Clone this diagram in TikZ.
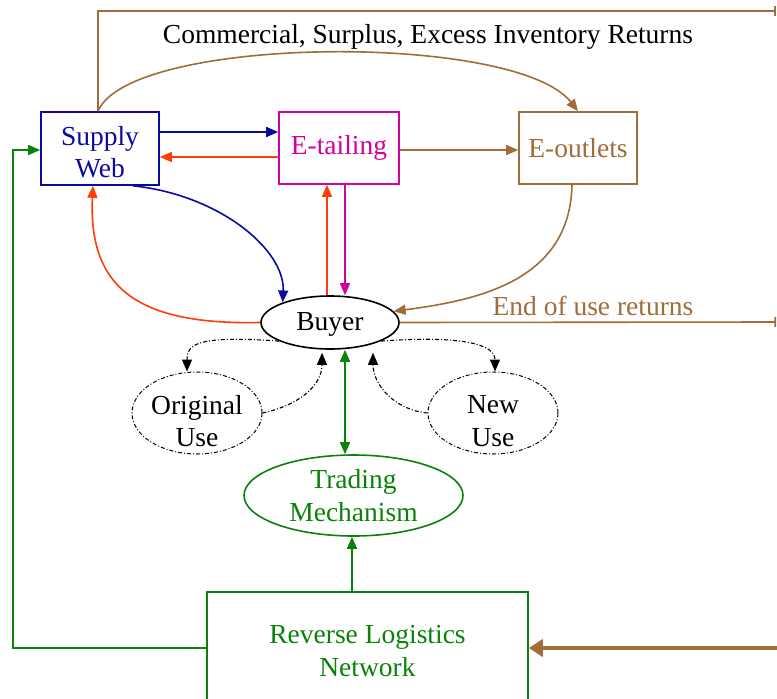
\documentclass[tikz,border=0pt]{standalone}
\usepackage{fontspec}
\setmainfont{Liberation Serif}
\usetikzlibrary{arrows.meta,shapes.geometric,calc}
\definecolor{swblue}{RGB}{10,10,160}
\definecolor{retred}{RGB}{255,60,10}
\definecolor{etmag}{RGB}{210,0,160}
\definecolor{brn}{RGB}{160,108,58}
\definecolor{grn}{RGB}{10,130,10}
\begin{document}
\begin{tikzpicture}[x=1pt,y=-1pt,
  every node/.style={font=\fontsize{27.5}{32.5}\selectfont},
  box/.style={draw,line width=1.6pt,inner sep=0pt,align=center},
  ell/.style={ellipse,draw,line width=1.6pt,inner sep=0pt,align=center},
  dell/.style={ellipse,draw,line width=1pt,dash pattern=on 4pt off 2pt on 1pt off 2pt,inner sep=0pt,align=center},
  lbl/.style={inner sep=0pt,align=center},
  conn/.style={line width=1.6pt},
  dconn/.style={line width=1.1pt,dash pattern=on 4pt off 2pt on 1pt off 2pt},
  tip/.style={-{Triangle[length=12pt,width=10pt]}},
  dtip/.style={{Triangle[length=12pt,width=10pt]}-{Triangle[length=12pt,width=10pt]}},
  bartip/.style={-{Bar[width=10pt]}},
  bigtip/.style={-{Triangle[length=14pt,width=17pt]}}
]
\clip (0,0) rectangle (777,699);

% nodes
\node[box,swblue,minimum width=118pt,minimum height=73pt] (sw) at (100,148.5) {};
\node[lbl,swblue] (swt) at ([yshift=-3.5]sw.center) {Supply\\Web};
\node[box,etmag,minimum width=120pt,minimum height=72pt] (et) at (339,148) {E-tailing};
\node[box,brn,minimum width=118pt,minimum height=72pt] (eo) at (578,148) {E-outlets};
\node[ell,black,minimum width=138pt,minimum height=53pt] (buyer) at (330,322.5) {};
\node[lbl] (buyert) at ([yshift=-2]buyer.center) {Buyer};
\node[dell,minimum width=130pt,minimum height=82pt] (orig) at (197,413) {};
\node[lbl] (origt) at ([yshift=-8]orig.center) {Original\\Use};
\node[dell,minimum width=130pt,minimum height=82pt] (newu) at (493,413) {};
\node[lbl] (newut) at ([yshift=-8]newu.center) {New\\Use};
\node[ell,grn,minimum width=219pt,minimum height=81pt] (tm) at (353.5,495.5) {Trading\\Mechanism};
\node[box,grn,minimum width=321pt,minimum height=118pt] (rln) at (367.5,651) {Reverse Logistics\\Network};
\node (title) at (428,37) {Commercial, Surplus, Excess Inventory Returns};
\node[brn] (eul) at (593,306) {End of use returns};

% coordinates
\coordinate (topend) at (776,11);
\coordinate (eulend) at (776,322);
\coordinate (gl) at (13,150);
\coordinate (rin) at (790,648);
\coordinate (etL) at ([xshift=-12]et.south);
\coordinate (etR) at ([xshift=6]et.south);
\coordinate (tmL) at ([xshift=-8.5]tm.north);
\coordinate (rlnT) at ([xshift=-15.5]rln.north);

% top brown return line
\draw[conn,brn,bartip] ([xshift=-2]sw.north) |- (topend);
% brown curve Supply Web -> E-outlets
\draw[conn,brn,tip] ([xshift=-2]sw.north) .. controls (130,35) and (516,32) .. (eo.north);

% horizontal arrows
\draw[conn,swblue,tip] ([yshift=16.5]sw.east) -- ([yshift=16]et.west);
\draw[conn,retred,tip] ([yshift=-9]et.west) -- ([yshift=-8.5]sw.east);
\draw[conn,brn,tip] ([yshift=-2]et.east) -- ([yshift=-2]eo.west);

% Supply web -> buyer (blue)
\draw[conn,swblue,tip] ([xshift=33]sw.south) .. controls (220,195) and (285,250) .. (buyer.157);
% buyer -> supply web (red)
\draw[conn,retred,tip] (buyer.west) .. controls (140,325) and (88,290) .. ([xshift=-7]sw.south);
% buyer <-> e-tailing
\draw[conn,retred,tip] (buyer.north -| etL) -- (etL);
\draw[conn,etmag,tip] (etR) -- (buyer.north -| etR);
% e-outlets -> buyer
\draw[conn,brn,tip] ([xshift=-6]eo.south) .. controls (570,280) and (480,300) .. (buyer.10);
% end of use returns
\draw[conn,brn,bartip] (buyer.east) -- (eulend);

% dashed loops
\draw[dconn,tip] (buyer.200) .. controls (195,335) and (187,345) .. ([xshift=-10]orig.north);
\draw[dconn,tip] (orig.east) .. controls (300,405) and (322,385) .. ([xshift=-8,yshift=-3]buyer.south);
\draw[dconn,tip] (buyer.340) .. controls (465,335) and (495,345) .. ([xshift=2]newu.north);
\draw[dconn,tip] (newu.west) .. controls (395,410) and (373,385) .. ([xshift=43,yshift=-3]buyer.south);

% green connectors
\draw[conn,grn,dtip] (buyer.south -| tmL) -- (tmL);
\draw[conn,grn,tip] (rlnT) -- (tm.south -| rlnT);
\draw[conn,grn,tip] ([yshift=3]rln.west) -| (gl) -- (sw.west |- gl);
\draw[line width=4.5pt,brn,bigtip] (rin) -- (rln.east |- rin);
\end{tikzpicture}
\end{document}
